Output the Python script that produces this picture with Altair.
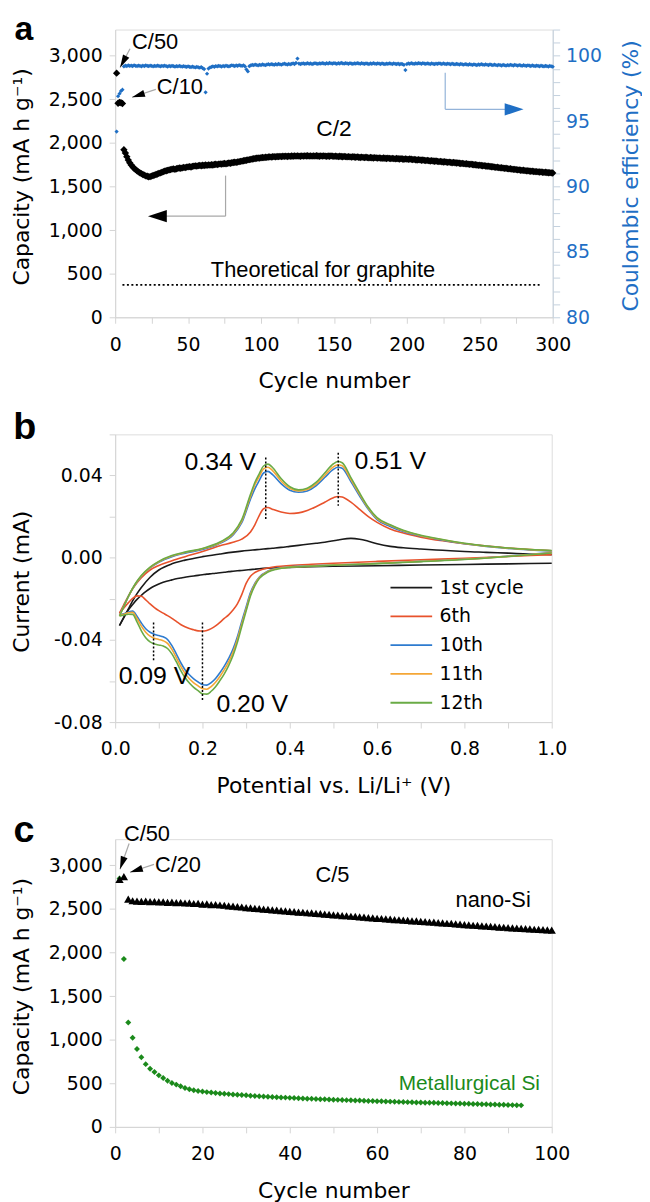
import altair as alt
import pandas as pd

FA = "DejaVu Sans"
FN = "Liberation Sans"
BLUE = "#1f6fc5"
GREEN = "#1b8a1b"
AXC = "#d4d4d4"
BLAX = "#c3d0de"

# ------------------------------------------------------------------ panel a
A_X_TICKS = [0, 25, 50, 75, 100, 125, 150, 175, 200, 225, 250, 275, 300]
A_YL_TICKS = [0, 500, 1000, 1500, 2000, 2500, 3000]
A_YR_TICKS = list(range(80, 103))

A_C50_CYCLE = [1]
A_C50_CAP = [2800]
A_C10_CYCLE = [2, 3, 4, 5]
A_C10_CAP = [2455, 2465, 2460, 2452]
A_C2_START = 6
A_C2_CAP = [
    1921, 1884, 1842, 1803, 1771, 1748, 1726, 1709, 1693, 1680,
    1668, 1656, 1647, 1638, 1630, 1622, 1617, 1612, 1614, 1619,
    1626, 1631, 1638, 1644, 1651, 1656, 1662, 1670, 1676, 1681,
    1685, 1690, 1694, 1699, 1702, 1697, 1703, 1708, 1712, 1709,
    1714, 1719, 1716, 1722, 1725, 1728, 1724, 1731, 1734, 1737,
    1733, 1739, 1742, 1738, 1744, 1741, 1746, 1743, 1748, 1745,
    1750, 1747, 1752, 1755, 1751, 1756, 1759, 1757, 1761, 1764,
    1760, 1766, 1769, 1767, 1772, 1775, 1778, 1776, 1781, 1785,
    1788, 1791, 1795, 1798, 1801, 1805, 1808, 1811, 1815, 1818,
    1821, 1824, 1827, 1825, 1830, 1833, 1831, 1836, 1834, 1838,
    1840, 1837, 1841, 1843, 1839, 1844, 1842, 1846, 1843, 1847,
    1845, 1848, 1844, 1849, 1846, 1850, 1847, 1851, 1848, 1852,
    1849, 1847, 1851, 1848, 1852, 1850, 1853, 1849, 1851, 1848,
    1852, 1849, 1853, 1850, 1847, 1851, 1848, 1852, 1849, 1846,
    1850, 1847, 1851, 1848, 1845, 1849, 1846, 1843, 1847, 1844,
    1841, 1845, 1842, 1839, 1843, 1840, 1837, 1841, 1838, 1835,
    1839, 1836, 1833, 1837, 1834, 1831, 1835, 1832, 1829, 1833,
    1830, 1827, 1831, 1828, 1825, 1829, 1826, 1823, 1827, 1824,
    1821, 1825, 1822, 1819, 1823, 1820, 1817, 1821, 1818, 1815,
    1819, 1816, 1813, 1817, 1814, 1811, 1815, 1812, 1808, 1811,
    1807, 1804, 1808, 1805, 1801, 1804, 1800, 1797, 1800, 1796,
    1793, 1796, 1792, 1789, 1792, 1788, 1785, 1788, 1784, 1781,
    1784, 1780, 1777, 1780, 1776, 1773, 1776, 1772, 1769, 1771,
    1767, 1764, 1766, 1762, 1759, 1761, 1757, 1754, 1756, 1752,
    1749, 1750, 1746, 1743, 1745, 1741, 1738, 1739, 1735, 1732,
    1733, 1729, 1726, 1727, 1723, 1720, 1721, 1717, 1714, 1715,
    1711, 1708, 1709, 1705, 1702, 1703, 1699, 1696, 1697, 1693,
    1690, 1691, 1687, 1685, 1686, 1682, 1680, 1681, 1677, 1675,
    1676, 1672, 1670, 1671, 1668, 1666, 1667, 1664, 1662, 1663,
    1660, 1658, 1659, 1656, 1655,
]
A_CE = [
    94.2, 96.9, 97.1, 97.3, 97.4,
    99.18, 99.24, 99.21, 99.26, 99.22, 99.25, 99.20, 99.27, 99.23, 99.21,
    99.25, 99.22, 99.19, 99.24, 99.21, 99.26, 99.23, 99.20, 99.24, 99.22,
    99.19, 99.23, 99.20, 99.25, 99.22, 99.18, 99.23, 99.21, 99.24, 99.20,
    99.17, 99.22, 99.19, 99.23, 99.20, 99.16, 99.21, 99.18, 99.22, 99.19,
    99.16, 99.20, 99.17, 99.14, 99.19, 99.15, 99.12, 99.17, 99.13, 99.10,
    99.15, 99.11, 99.08, 99.13, 99.05, 98.98, 97.20, 98.62, 99.02, 99.10,
    99.14, 99.18, 99.15, 99.21, 99.18, 99.23, 99.20, 99.17, 99.22, 99.19,
    99.24, 99.21, 99.18, 99.23, 99.27, 99.24, 99.21, 99.26, 99.23, 99.28,
    99.25, 99.22, 99.27, 99.18, 98.95, 98.80, 99.20, 99.26, 99.30, 99.27,
    99.32, 99.29, 99.26, 99.31, 99.28, 99.33, 99.30, 99.27, 99.32, 99.35,
    99.31, 99.36, 99.33, 99.30, 99.35, 99.32, 99.37, 99.34, 99.31, 99.36,
    99.39, 99.35, 99.32, 99.37, 99.34, 99.38, 99.41, 99.36, 99.45, 99.78,
    99.40, 99.36, 99.39, 99.42, 99.37, 99.40, 99.43, 99.38, 99.41, 99.36,
    99.39, 99.43, 99.40, 99.37, 99.42, 99.39, 99.44, 99.41, 99.38, 99.43,
    99.40, 99.45, 99.42, 99.39, 99.44, 99.41, 99.38, 99.43, 99.40, 99.46,
    99.42, 99.39, 99.44, 99.41, 99.38, 99.43, 99.40, 99.37, 99.42, 99.39,
    99.44, 99.41, 99.38, 99.43, 99.40, 99.37, 99.42, 99.39, 99.36, 99.41,
    99.38, 99.43, 99.40, 99.37, 99.42, 99.39, 99.36, 99.41, 99.38, 99.35,
    99.40, 99.37, 99.42, 99.39, 99.36, 99.41, 99.38, 99.35, 99.40, 99.33,
    99.38, 99.35, 99.30, 98.90, 99.36, 99.41, 99.38, 99.43, 99.40, 99.37,
    99.42, 99.39, 99.44, 99.41, 99.38, 99.43, 99.40, 99.37, 99.42, 99.39,
    99.36, 99.41, 99.38, 99.35, 99.40, 99.37, 99.42, 99.39, 99.36, 99.41,
    99.38, 99.35, 99.40, 99.37, 99.34, 99.39, 99.36, 99.33, 99.38, 99.35,
    99.32, 99.37, 99.34, 99.31, 99.36, 99.33, 99.30, 99.35, 99.32, 99.29,
    99.34, 99.31, 99.28, 99.33, 99.30, 99.35, 99.32, 99.29, 99.34, 99.31,
    99.28, 99.33, 99.30, 99.27, 99.32, 99.29, 99.26, 99.31, 99.28, 99.25,
    99.30, 99.27, 99.24, 99.29, 99.26, 99.31, 99.28, 99.25, 99.30, 99.27,
    99.24, 99.29, 99.26, 99.23, 99.28, 99.25, 99.22, 99.27, 99.24, 99.21,
    99.26, 99.23, 99.20, 99.25, 99.22, 99.19, 99.24, 99.21, 99.18, 99.23,
    99.20, 99.17, 99.22, 99.19, 99.16,
]
A_THEORY = 372
A_THEORY_X = [5, 291]

# annotation arrows (tail x, tail y, tip x, tip y)
A_ARROW_LINES_X = [10.2, 27.9, 75.7, 75.7]
A_ARROW_LINES_Y = [3080, 2614, 1625, 1160]
A_ARROW_LINES_X2 = [3.4, 11.6, 75.7, 30.0]
A_ARROW_LINES_Y2 = [2864, 2523, 1160, 1160]
A_SMALL_HEAD_X = [3.4, 11.6]
A_SMALL_HEAD_Y = [2864, 2523]
A_SMALL_HEAD_ANG = [208, 252]
A_BIG_HEAD_X = [22.5]
A_BIG_HEAD_Y = [1160]
A_BIG_HEAD_ANG = [270]
A_BLUE_LINE_X = [226.3, 226.3]
A_BLUE_LINE_Y = [98.7, 95.9]
A_BLUE_LINE_X2 = [226.3, 272.0]
A_BLUE_LINE_Y2 = [95.9, 95.9]
A_BLUE_HEAD_X = [280.0]
A_BLUE_HEAD_Y = [95.9]
A_BLUE_HEAD_ANG = [90]

A_TXT_L = ["C/50", "C/10"]
A_TXT_L_X = [11.6, 28.6]
A_TXT_L_Y = [3080, 2557]

# ------------------------------------------------------------------ panel b
B_X_TICKS = [0.0, 0.1, 0.2, 0.3, 0.4, 0.5, 0.6, 0.7, 0.8, 0.9, 1.0]
B_Y_TICKS = [-0.08, -0.06, -0.04, -0.02, 0.0, 0.02, 0.04, 0.06]
B_NAMES = ["1st cycle", "6th", "10th", "11th", "12th"]
B_COLORS = ["#1a1a1a", "#e8522c", "#2e7bcf", "#f4a636", "#6aab46"]

B_CATH_V = [1.0, 0.9, 0.8, 0.7, 0.6, 0.5, 0.45, 0.4, 0.37, 0.35, 0.33,
            0.32, 0.31, 0.30, 0.29, 0.28, 0.27, 0.26, 0.25, 0.24, 0.23, 0.22,
            0.21, 0.20, 0.19, 0.18, 0.17, 0.16, 0.15, 0.14, 0.13, 0.12, 0.11,
            0.10, 0.09, 0.08, 0.07, 0.06, 0.05, 0.04, 0.03, 0.02, 0.01]
B_ANOD_V = [0.01, 0.02, 0.03, 0.04, 0.05, 0.06, 0.08, 0.10, 0.13, 0.16,
            0.20, 0.24, 0.27, 0.29, 0.31, 0.32, 0.33, 0.34, 0.35, 0.36,
            0.38, 0.40, 0.42, 0.44, 0.46, 0.48, 0.50, 0.51, 0.52, 0.54,
            0.56, 0.58, 0.60, 0.63, 0.66, 0.70, 0.75, 0.80, 0.85, 0.90,
            0.95, 1.0]

B_CATH_1 = [-0.0027, -0.0030, -0.0033, -0.0036, -0.0039, -0.0042, -0.0044, -0.0047, -0.0049, -0.0051, -0.0054,
            -0.0056, -0.0058, -0.0060, -0.0062, -0.0064, -0.0066, -0.0068, -0.0071, -0.0073, -0.0076, -0.0078,
            -0.0080, -0.0083, -0.0086, -0.0089, -0.0092, -0.0095, -0.0099, -0.0103, -0.0108, -0.0113, -0.0120,
            -0.0128, -0.0138, -0.0150, -0.0165, -0.0183, -0.0203, -0.0228, -0.0255, -0.0290, -0.0330]
B_CATH_6 = [0.0015, 0.0006, -0.0003, -0.0010, -0.0018, -0.0027, -0.0032, -0.0038, -0.0043, -0.0050, -0.0062,
            -0.0072, -0.0090, -0.0125, -0.0180, -0.0225, -0.0255, -0.0278, -0.0295, -0.0315, -0.0332, -0.0345,
            -0.0354, -0.0357, -0.0356, -0.0351, -0.0345, -0.0336, -0.0325, -0.0310, -0.0295, -0.0282, -0.0270,
            -0.0258, -0.0243, -0.0225, -0.0205, -0.0188, -0.0186, -0.0198, -0.0220, -0.0245, -0.0270]
B_CATH_10 = [0.0025, 0.0008, -0.0008, -0.0018, -0.0028, -0.0036, -0.0040, -0.0045, -0.0052, -0.0065, -0.0095,
             -0.0125, -0.0170, -0.0240, -0.0310, -0.0385, -0.0445, -0.0490, -0.0528, -0.0560, -0.0588, -0.0608,
             -0.0620, -0.0618, -0.0605, -0.0590, -0.0570, -0.0545, -0.0510, -0.0468, -0.0428, -0.0398, -0.0385,
             -0.0379, -0.0373, -0.0363, -0.0346, -0.0318, -0.0285, -0.0260, -0.0265, -0.0273, -0.0280]
B_CATH_11 = [0.0024, 0.0007, -0.0008, -0.0018, -0.0028, -0.0036, -0.0041, -0.0046, -0.0054, -0.0067, -0.0098,
             -0.0130, -0.0178, -0.0250, -0.0322, -0.0398, -0.0460, -0.0507, -0.0545, -0.0578, -0.0606, -0.0627,
             -0.0640, -0.0638, -0.0624, -0.0609, -0.0589, -0.0563, -0.0528, -0.0486, -0.0446, -0.0417, -0.0404,
             -0.0398, -0.0392, -0.0382, -0.0363, -0.0333, -0.0296, -0.0266, -0.0268, -0.0275, -0.0282]
B_CATH_12 = [0.0023, 0.0006, -0.0009, -0.0019, -0.0029, -0.0037, -0.0042, -0.0047, -0.0056, -0.0070, -0.0102,
             -0.0136, -0.0186, -0.0260, -0.0335, -0.0412, -0.0476, -0.0525, -0.0565, -0.0598, -0.0628, -0.0650,
             -0.0664, -0.0662, -0.0647, -0.0631, -0.0610, -0.0583, -0.0548, -0.0506, -0.0468, -0.0442, -0.0430,
             -0.0425, -0.0420, -0.0410, -0.0390, -0.0356, -0.0312, -0.0276, -0.0275, -0.0279, -0.0284]

B_ANOD_1 = [-0.0330, -0.0290, -0.0250, -0.0210, -0.0175, -0.0145, -0.0095, -0.0060, -0.0030, -0.0012,
            0.0005, 0.0018, 0.0027, 0.0032, 0.0036, 0.0038, 0.0040, 0.0042, 0.0044, 0.0046,
            0.0050, 0.0055, 0.0060, 0.0065, 0.0070, 0.0075, 0.0082, 0.0086, 0.0090, 0.0094,
            0.0090, 0.0080, 0.0068, 0.0055, 0.0048, 0.0042, 0.0036, 0.0030, 0.0026, 0.0022,
            0.0018, 0.0015]
B_ANOD_6 = [-0.0270, -0.0228, -0.0188, -0.0152, -0.0122, -0.0097, -0.0060, -0.0038, -0.0015, 0.0005,
            0.0030, 0.0058, 0.0075, 0.0090, 0.0125, 0.0160, 0.0205, 0.0238, 0.0244, 0.0236,
            0.0222, 0.0215, 0.0218, 0.0230, 0.0248, 0.0270, 0.0292, 0.0298, 0.0295, 0.0270,
            0.0235, 0.0200, 0.0172, 0.0140, 0.0120, 0.0100, 0.0082, 0.0068, 0.0057, 0.0047,
            0.0040, 0.0034]
B_ANOD_10 = [-0.0280, -0.0235, -0.0190, -0.0150, -0.0118, -0.0090, -0.0050, -0.0022, 0.0005, 0.0022,
             0.0040, 0.0070, 0.0110, 0.0170, 0.0285, 0.0335, 0.0375, 0.0412, 0.0420, 0.0405,
             0.0360, 0.0328, 0.0318, 0.0325, 0.0350, 0.0390, 0.0430, 0.0440, 0.0435, 0.0370,
             0.0300, 0.0235, 0.0185, 0.0152, 0.0127, 0.0105, 0.0085, 0.0068, 0.0055, 0.0045,
             0.0038, 0.0033]
B_ANOD_11 = [-0.0282, -0.0236, -0.0190, -0.0150, -0.0117, -0.0089, -0.0048, -0.0020, 0.0008, 0.0025,
             0.0043, 0.0073, 0.0115, 0.0178, 0.0298, 0.0355, 0.0395, 0.0432, 0.0440, 0.0425,
             0.0373, 0.0337, 0.0325, 0.0332, 0.0358, 0.0400, 0.0442, 0.0452, 0.0447, 0.0380,
             0.0308, 0.0240, 0.0190, 0.0158, 0.0131, 0.0107, 0.0087, 0.0069, 0.0056, 0.0046,
             0.0039, 0.0034]
B_ANOD_12 = [-0.0284, -0.0237, -0.0190, -0.0149, -0.0115, -0.0087, -0.0046, -0.0018, 0.0010, 0.0027,
             0.0045, 0.0076, 0.0120, 0.0185, 0.0308, 0.0366, 0.0408, 0.0446, 0.0455, 0.0440,
             0.0385, 0.0345, 0.0330, 0.0338, 0.0366, 0.0412, 0.0457, 0.0468, 0.0462, 0.0390,
             0.0315, 0.0245, 0.0195, 0.0160, 0.0133, 0.0109, 0.0088, 0.0070, 0.0057, 0.0047,
             0.0040, 0.0035]

B_VLINE_X = [0.345, 0.511, 0.088, 0.200]
B_VLINE_Y = [0.0487, 0.0511, -0.0316, -0.0316]
B_VLINE_Y2 = [0.0178, 0.0253, -0.0499, -0.0701]
B_TXT_R = ["0.34 V"]
B_TXT_R_X = [0.323]
B_TXT_R_Y = [0.0429]
B_TXT_L = ["0.51 V", "0.09 V", "0.20 V"]
B_TXT_L_X = [0.548, 0.008, 0.232]
B_TXT_L_Y = [0.0430, -0.0614, -0.0750]

# ------------------------------------------------------------------ panel c
C_X_TICKS = [0, 10, 20, 30, 40, 50, 60, 70, 80, 90, 100]
C_Y_TICKS = [0, 500, 1000, 1500, 2000, 2500, 3000]
C_NANO = [2840, 2870,
          2612, 2594, 2590, 2586, 2589, 2583, 2585, 2580, 2582, 2576,
          2578, 2572, 2574, 2568, 2570, 2562, 2564, 2555, 2557, 2550,
          2551, 2545, 2542, 2536, 2533, 2526, 2522, 2515, 2513, 2506,
          2503, 2498, 2494, 2489, 2486, 2480, 2478, 2472, 2470, 2464,
          2462, 2456, 2454, 2448, 2446, 2440, 2438, 2432, 2430, 2424,
          2422, 2416, 2414, 2408, 2406, 2400, 2398, 2392, 2390, 2385,
          2383, 2378, 2376, 2371, 2369, 2364, 2362, 2357, 2355, 2350,
          2348, 2343, 2341, 2336, 2334, 2328, 2326, 2320, 2318, 2313,
          2311, 2306, 2304, 2299, 2297, 2292, 2290, 2285, 2283, 2279,
          2277, 2273, 2271, 2267, 2265, 2262, 2260, 2257]
C_MET = [2850, 1925, 1197, 1023, 894, 799, 720, 667, 629, 591,
         561, 530, 504, 485, 466, 447, 432, 420, 411,
         405, 399, 394, 389, 384, 380, 376, 372, 368, 365,
         362, 358, 355, 352, 349, 346, 343, 341, 338, 336,
         333, 331, 329, 326, 324, 322, 320, 318, 316, 314,
         312, 310, 308, 307, 305, 303, 302, 300, 298, 297,
         295, 294, 292, 290, 289, 287, 286, 284, 283, 281,
         280, 278, 277, 276, 274, 273, 272, 270, 269, 268,
         266, 265, 263, 262, 260, 259, 257, 256, 254, 253,
         251, 250, 248, 247]
C_ARROW_X = [3.2, 8.9]
C_ARROW_Y = [3250, 3011]
C_ARROW_X2 = [1.1, 3.4]
C_ARROW_Y2 = [2955, 2920]
C_HEAD_ANG = [199, 252]
C_TXT_L = ["C/50", "C/20", "C/5"]
C_TXT_L_X = [2.0, 9.1, 45.9]
C_TXT_L_Y = [3284, 2920, 2807]
C_TXT_R = ["nano-Si"]
C_TXT_R_X = [95.2]
C_TXT_R_Y = [2523]
C_TXT_G = ["Metallurgical Si"]
C_TXT_G_X = [97.3]
C_TXT_G_Y = [420]

assert len(A_C2_CAP) == 295 and len(A_CE) == 300
assert len(C_NANO) == 100 and len(C_MET) == 93
for l in (B_CATH_1, B_CATH_6, B_CATH_10, B_CATH_11, B_CATH_12):
    assert len(l) == len(B_CATH_V)
for l in (B_ANOD_1, B_ANOD_6, B_ANOD_10, B_ANOD_11, B_ANOD_12):
    assert len(l) == len(B_ANOD_V)

SMALL_HEAD = "M0,0L0.55,2L-0.55,2Z"
BIG_HEAD = "M0,0L0.65,2L-0.65,2Z"


def ax(**kw):
    base = dict(grid=False, domainColor=AXC, tickColor=AXC, tickSize=6,
                labelFont=FA, labelFontSize=19, labelColor="#000000",
                titleFont=FA, titleFontSize=22, titleFontWeight="normal",
                titleColor="#000000", labelPadding=7, labelFlush=False)
    base.update(kw)
    return alt.Axis(**base)


def xaxis(values, title, w, expr, fmt=None):
    kw = dict(values=values, title=title, labelPadding=12, labelExpr=expr,
              titleX=w / 2, titleY=71, titleBaseline="alphabetic", titleAlign="center")
    if fmt:
        kw["format"] = fmt
    return ax(**kw)


def yaxis_left(values, title, h, expr=None, fmt=None):
    kw = dict(values=values, title=title, titleX=-94, titleY=h / 2 + 3,
              titleAngle=270, titleAlign="center", titleBaseline="middle")
    if expr:
        kw["labelExpr"] = expr
    if fmt:
        kw["format"] = fmt
    return ax(**kw)


def txt(df, align, size, color="#000000", weight="normal", font=FN):
    return alt.Chart(df).mark_text(align=align, baseline="alphabetic", font=font,
                                   fontSize=size, color=color, fontWeight=weight)


# ================= panel a =================
WA, HA = 441, 290
XA = lambda: alt.X("x:Q", scale=alt.Scale(domain=[0, 300], nice=False, zero=False),
                   axis=xaxis(A_X_TICKS, "Cycle number", WA,
                              "datum.value % 50 === 0 ? datum.label : ''"))
YAL = lambda: alt.Y("y:Q", scale=alt.Scale(domain=[0, 3300], nice=False, zero=False),
                    axis=yaxis_left(A_YL_TICKS, "Capacity (mA h g⁻¹)", HA, fmt=",d"))
YAR = lambda: alt.Y("y:Q", scale=alt.Scale(domain=[80, 102], nice=False, zero=False),
                    axis=ax(values=A_YR_TICKS, orient="right", title="Coulombic efficiency (%)",
                            labelExpr="datum.value % 5 === 0 ? datum.label : ''",
                            labelColor=BLUE, titleColor=BLUE, domainColor=BLAX, tickColor=BLAX,
                            tickSize=7, labelPadding=6, titleX=78, titleY=HA / 2 + 2,
                            titleAngle=270, titleAlign="center", titleBaseline="middle"))

cap_x = A_C50_CYCLE + A_C10_CYCLE + list(range(A_C2_START, A_C2_START + len(A_C2_CAP)))
cap_y = A_C50_CAP + A_C10_CAP + A_C2_CAP
df_cap = pd.DataFrame({"x": cap_x, "y": cap_y})
df_ce = pd.DataFrame({"x": list(range(1, len(A_CE) + 1)), "y": A_CE})

a_cap = alt.Chart(df_cap).mark_point(shape="diamond", filled=True, size=55, color="#000000",
                                     opacity=1).encode(x=XA(), y=YAL())
a_theory = alt.Chart(pd.DataFrame({"x": [A_THEORY_X[0]], "x2": [A_THEORY_X[1]], "y": [A_THEORY]})).mark_rule(
    color="#000000", strokeDash=[2, 2.5], strokeWidth=1.6).encode(x=XA(), x2="x2:Q", y=YAL())
a_lines = alt.Chart(pd.DataFrame({"x": A_ARROW_LINES_X, "y": A_ARROW_LINES_Y,
                                  "x2": A_ARROW_LINES_X2, "y2": A_ARROW_LINES_Y2})).mark_rule(
    color="#a8a8a8", strokeWidth=1.2).encode(x=XA(), y=YAL(), x2="x2:Q", y2="y2:Q")
a_shead = alt.Chart(pd.DataFrame({"x": A_SMALL_HEAD_X, "y": A_SMALL_HEAD_Y, "ang": A_SMALL_HEAD_ANG})).mark_point(
    shape=SMALL_HEAD, filled=True, size=170, color="#000000", opacity=1, strokeWidth=0).encode(
    x=XA(), y=YAL(), angle=alt.Angle("ang:Q", scale=None))
a_bhead = alt.Chart(pd.DataFrame({"x": A_BIG_HEAD_X, "y": A_BIG_HEAD_Y, "ang": A_BIG_HEAD_ANG})).mark_point(
    shape=BIG_HEAD, filled=True, size=361, color="#000000", opacity=1, strokeWidth=0).encode(
    x=XA(), y=YAL(), angle=alt.Angle("ang:Q", scale=None))
a_txt_l = txt(pd.DataFrame({"x": A_TXT_L_X, "y": A_TXT_L_Y, "t": A_TXT_L}), "left", 22).encode(
    x=XA(), y=YAL(), text="t:N")
a_txt_c2 = txt(pd.DataFrame({"x": [150], "y": [2080], "t": ["C/2"]}), "center", 23).encode(
    x=XA(), y=YAL(), text="t:N")
a_txt_th = txt(pd.DataFrame({"x": [142.5], "y": [466], "t": ["Theoretical for graphite"]}), "center", 22).encode(
    x=XA(), y=YAL(), text="t:N")
a_letter = txt(pd.DataFrame({"t": ["a"]}), "center", 34, weight="bold").encode(
    text="t:N", x=alt.value(-92), y=alt.value(11))

a_ce = alt.Chart(df_ce).mark_point(shape="diamond", filled=True, size=18, color=BLUE,
                                   opacity=1).encode(x=XA(), y=YAR())
a_blines = alt.Chart(pd.DataFrame({"x": A_BLUE_LINE_X, "y": A_BLUE_LINE_Y,
                                   "x2": A_BLUE_LINE_X2, "y2": A_BLUE_LINE_Y2})).mark_rule(
    color="#93b3d9", strokeWidth=1.2).encode(x=XA(), y=YAR(), x2="x2:Q", y2="y2:Q")
a_bluehead = alt.Chart(pd.DataFrame({"x": A_BLUE_HEAD_X, "y": A_BLUE_HEAD_Y, "ang": A_BLUE_HEAD_ANG})).mark_point(
    shape=BIG_HEAD, filled=True, size=361, color=BLUE, opacity=1, strokeWidth=0).encode(
    x=XA(), y=YAR(), angle=alt.Angle("ang:Q", scale=None))

left_a = alt.layer(a_theory, a_lines, a_cap, a_shead, a_bhead, a_txt_l, a_txt_c2, a_txt_th, a_letter)
right_a = alt.layer(a_blines, a_ce, a_bluehead)
panel_a = alt.layer(left_a, right_a).resolve_scale(y="independent").properties(width=WA, height=HA)

# ================= panel b =================
WB, HB = 440, 290
XB = lambda: alt.X("x:Q", scale=alt.Scale(domain=[0, 1], nice=False, zero=False),
                   axis=xaxis(B_X_TICKS, "Potential vs. Li/Li⁺ (V)", WB,
                              "round(datum.value * 10) % 2 === 0 ? format(datum.value, '.1f') : ''"))
YB = lambda: alt.Y("y:Q", scale=alt.Scale(domain=[-0.08, 0.06], nice=False, zero=False),
                   axis=yaxis_left(B_Y_TICKS, "Current (mA)", HB,
                                   expr="round(datum.value * 100) % 4 === 0 ? replace(format(datum.value, '.2f'), '−', '-') : ''"))

rows = []
for name, cc, aa in zip(B_NAMES,
                        [B_CATH_1, B_CATH_6, B_CATH_10, B_CATH_11, B_CATH_12],
                        [B_ANOD_1, B_ANOD_6, B_ANOD_10, B_ANOD_11, B_ANOD_12]):
    for v, i in zip(B_CATH_V, cc):
        rows.append({"x": v, "y": i, "cyc": name, "ser": name + " c"})
    for v, i in zip(B_ANOD_V, aa):
        rows.append({"x": v, "y": i, "cyc": name, "ser": name + " a"})
df_cv = pd.DataFrame(rows)

b_lines = alt.Chart(df_cv).mark_line(strokeWidth=1.6, interpolate="monotone").encode(
    x=XB(), y=YB(),
    color=alt.Color("cyc:N", scale=alt.Scale(domain=B_NAMES, range=B_COLORS),
                    legend=alt.Legend(orient="none", legendX=289, legendY=145, title=None,
                                      symbolType="M-3,0L3,0", symbolSize=196, symbolStrokeWidth=1.8,
                                      labelFont=FA, labelFontSize=19, labelColor="#000000",
                                      labelOffset=19, rowPadding=9, padding=0)),
    detail="ser:N")
b_vl = alt.Chart(pd.DataFrame({"x": B_VLINE_X, "y": B_VLINE_Y, "y2": B_VLINE_Y2})).mark_rule(
    color="#000000", strokeDash=[2, 2], strokeWidth=1.5).encode(x=XB(), y=YB(), y2="y2:Q")
b_txt_r = txt(pd.DataFrame({"x": B_TXT_R_X, "y": B_TXT_R_Y, "t": B_TXT_R}), "right", 25).encode(
    x=XB(), y=YB(), text="t:N")
b_txt_l = txt(pd.DataFrame({"x": B_TXT_L_X, "y": B_TXT_L_Y, "t": B_TXT_L}), "left", 25).encode(
    x=XB(), y=YB(), text="t:N")
b_letter = txt(pd.DataFrame({"t": ["b"]}), "center", 38, weight="bold").encode(
    text="t:N", x=alt.value(-91), y=alt.value(5))
panel_b = alt.layer(b_lines, b_vl, b_txt_r, b_txt_l, b_letter).properties(width=WB, height=HB)

# ================= panel c =================
WC, HC = 440, 290
XC = lambda: alt.X("x:Q", scale=alt.Scale(domain=[0, 100], nice=False, zero=False),
                   axis=xaxis(C_X_TICKS, "Cycle number", WC,
                              "datum.value % 20 === 0 ? datum.label : ''"))
YC = lambda: alt.Y("y:Q", scale=alt.Scale(domain=[0, 3300], nice=False, zero=False),
                   axis=yaxis_left(C_Y_TICKS, "Capacity (mA h g⁻¹)", HC, fmt=",d"))

df_nano = pd.DataFrame({"x": list(range(1, len(C_NANO) + 1)), "y": C_NANO})
df_met = pd.DataFrame({"x": list(range(1, len(C_MET) + 1)), "y": C_MET})
c_nano = alt.Chart(df_nano).mark_point(shape="triangle-up", filled=True, size=70, color="#000000",
                                       opacity=1).encode(x=XC(), y=YC())
c_met = alt.Chart(df_met).mark_point(shape="diamond", filled=True, size=36, color=GREEN,
                                     opacity=1).encode(x=XC(), y=YC())
c_lines = alt.Chart(pd.DataFrame({"x": C_ARROW_X, "y": C_ARROW_Y, "x2": C_ARROW_X2, "y2": C_ARROW_Y2})).mark_rule(
    color="#a8a8a8", strokeWidth=1.2).encode(x=XC(), y=YC(), x2="x2:Q", y2="y2:Q")
c_heads = alt.Chart(pd.DataFrame({"x": C_ARROW_X2, "y": C_ARROW_Y2, "ang": C_HEAD_ANG})).mark_point(
    shape=SMALL_HEAD, filled=True, size=170, color="#000000", opacity=1, strokeWidth=0).encode(
    x=XC(), y=YC(), angle=alt.Angle("ang:Q", scale=None))
c_txt_l = txt(pd.DataFrame({"x": C_TXT_L_X, "y": C_TXT_L_Y, "t": C_TXT_L}), "left", 22).encode(
    x=XC(), y=YC(), text="t:N")
c_txt_r = txt(pd.DataFrame({"x": C_TXT_R_X, "y": C_TXT_R_Y, "t": C_TXT_R}), "right", 22).encode(
    x=XC(), y=YC(), text="t:N")
c_txt_g = txt(pd.DataFrame({"x": C_TXT_G_X, "y": C_TXT_G_Y, "t": C_TXT_G}), "right", 21, color=GREEN).encode(
    x=XC(), y=YC(), text="t:N")
c_letter = txt(pd.DataFrame({"t": ["c"]}), "center", 38, weight="bold").encode(
    text="t:N", x=alt.value(-92), y=alt.value(3))
panel_c = alt.layer(c_lines, c_met, c_nano, c_heads, c_txt_l, c_txt_r, c_txt_g, c_letter).properties(
    width=WC, height=HC)

chart = alt.vconcat(panel_a, panel_b, panel_c, spacing=118, bounds="flush").resolve_legend(
    color="independent").properties(
    padding={"left": 2, "top": 0, "right": 0, "bottom": 0}
).configure_view(stroke="#e6e6e6").configure(background="white")

chart.save("out.html", embed_options={"renderer": "svg", "actions": False})
